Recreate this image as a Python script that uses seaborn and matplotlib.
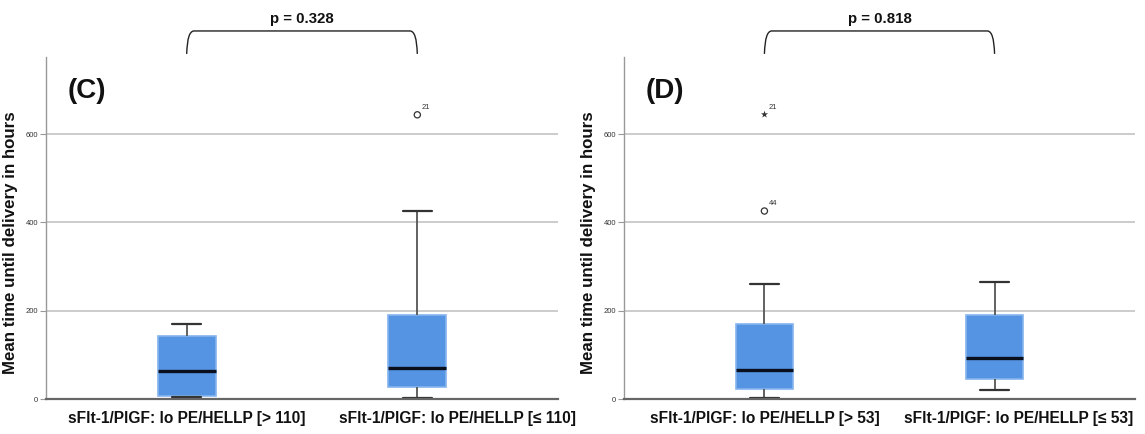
import numpy as np
import pandas as pd
import matplotlib
matplotlib.use("Agg")
import matplotlib.pyplot as plt
from matplotlib.path import Path
from matplotlib.patches import PathPatch
from matplotlib.transforms import ScaledTranslation
import seaborn as sns

# ---------------- data (five-number summaries) ----------------
cats_c = ["sFlt-1/PlGF: lo PE/HELLP [> 110]", "sFlt-1/PlGF: lo PE/HELLP [≤ 110]"]
cats_d = ["sFlt-1/PlGF: lo PE/HELLP [> 53]", "sFlt-1/PlGF: lo PE/HELLP [≤ 53]"]
# [lower whisker, Q1, median, Q3, upper whisker]
c_high = [4, 7, 63, 143, 171]
c_low = [3, 27, 70, 190, 426]
d_high = [3, 23, 65, 171, 260]
d_low = [20, 45, 94, 190, 264]
# outliers: (category index, value, case label, extreme?)
c_out_cat = [1]
c_out_val = [644]
c_out_lab = ["21"]
c_out_ext = [False]
d_out_cat = [0, 0]
d_out_val = [645, 426]
d_out_lab = ["21", "44"]
d_out_ext = [True, False]
p_c = "p = 0.328"
p_d = "p = 0.818"
yticks = [0, 200, 400, 600]

# ---------------- style ----------------
sns.set_style("white")
plt.rcParams["font.family"] = ["Liberation Sans", "DejaVu Sans"]

FILL = "#5593e3"
EDGE = "#86b4ee"

W, H = 1145, 434
fig = plt.figure(figsize=(W / 100, H / 100), dpi=100)

def px_axes(x0, x1, ytop, ybot):
    return fig.add_axes([x0 / W, 1 - ybot / H, (x1 - x0) / W, (ybot - ytop) / H])

ax_c = px_axes(46, 558, 57, 399)
ax_d = px_axes(624, 1135, 57, 399)


def panel(ax, cats, g1, g2, ocat, oval, olab, oext, ptext, tag, shift2):
    df = pd.DataFrame({"group": [cats[0]] * len(g1) + [cats[1]] * len(g2),
                       "hours": g1 + g2})
    sns.boxplot(data=df, x="group", y="hours", order=cats, ax=ax,
                whis=(0, 100), width=0.25, showfliers=False,
                color=FILL, saturation=1, linewidth=1.2,
                boxprops=dict(facecolor=FILL, edgecolor=EDGE, linewidth=1.2),
                medianprops=dict(color="#0a0f1e", linewidth=2.4),
                whiskerprops=dict(color="#555555", linewidth=1.3),
                capprops=dict(color="#333333", linewidth=1.6))
    # outliers
    odf = pd.DataFrame({"x": ocat, "y": oval,
                        "kind": ["extreme" if e else "outlier" for e in oext]})
    circ = odf[odf.kind == "outlier"]
    star = odf[odf.kind == "extreme"]
    if len(circ):
        sns.scatterplot(data=circ, x="x", y="y", ax=ax, marker="o", s=20,
                        facecolor="none", edgecolor="#333333", linewidth=0.9,
                        legend=False, zorder=5)
    if len(star):
        sns.scatterplot(data=star, x="x", y="y", ax=ax, marker="*", s=30,
                        color="#333333", linewidth=0, legend=False, zorder=5)
    for xc, yv, lb in zip(ocat, oval, olab):
        ax.annotate(lb, (xc, yv), xytext=(3, 4), textcoords="offset points",
                    fontsize=5.5, color="#333333")

    ax.set_xlim(-0.61, 1.61)
    ax.set_ylim(0, 775)
    ax.set_yticks(yticks)
    ax.set_yticklabels([str(t) for t in yticks], fontsize=5.5, color="#333333")
    ax.tick_params(axis="y", length=4, width=0.8, color="#999999", pad=1.5, left=True)
    ax.tick_params(axis="x", length=0, pad=9)
    for i, lbl in enumerate(ax.get_xticklabels()):
        lbl.set_fontsize(11.2)
        lbl.set_fontweight("bold")
        lbl.set_color("#111111")
        if i == 1:
            lbl.set_transform(lbl.get_transform() +
                              ScaledTranslation(shift2 / 100, 0, fig.dpi_scale_trans))
    ax.set_xlabel("")
    ax.set_ylabel("Mean time until delivery in hours", fontsize=12.2, fontweight="bold",
                  color="#111111")
    ax.yaxis.set_label_coords(-28 / ax.bbox.width, 0.458)
    for yv in yticks[1:]:
        ax.axhline(yv, color="#c8c8c8", linewidth=1.3, zorder=0)
    for s in ["top", "right"]:
        ax.spines[s].set_visible(False)
    ax.spines["left"].set_color("#999999")
    ax.spines["left"].set_linewidth(1.0)
    ax.spines["bottom"].set_color("#666666")
    ax.spines["bottom"].set_linewidth(1.6)

    ax.text(0.043, 0.90, tag, transform=ax.transAxes, fontsize=20, fontweight="bold",
            va="center", ha="left", color="#111111")

    # significance bracket above the axes
    yb, yt, r = 782, 834, 0.03
    verts = [(0, yb), (0.003, yt - 15), (0.012, yt - 2), (r, yt),
             (1 - r, yt), (0.988, yt - 2), (0.997, yt - 15), (1, yb)]
    codes = [Path.MOVETO, Path.CURVE4, Path.CURVE4, Path.CURVE4,
             Path.LINETO, Path.CURVE4, Path.CURVE4, Path.CURVE4]
    ax.add_patch(PathPatch(Path(verts, codes), facecolor="none", edgecolor="#222222",
                           linewidth=1.0, clip_on=False))
    ax.text(0.5, 862, ptext, ha="center", va="center", fontsize=10.8, fontweight="bold",
            color="#111111", clip_on=False)


panel(ax_c, cats_c, c_high, c_low, c_out_cat, c_out_val, c_out_lab, c_out_ext, p_c, "(C)", 40)
panel(ax_d, cats_d, d_high, d_low, d_out_cat, d_out_val, d_out_lab, d_out_ext, p_d, "(D)", 24)

fig.savefig("out.png", dpi=100)
